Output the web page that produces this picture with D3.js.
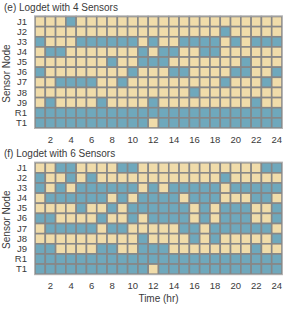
<!DOCTYPE html>
<html>
<head>
<meta charset="utf-8">
<script src="https://cdn.jsdelivr.net/npm/d3@7"></script>
<style>
  body { margin: 0; background: #fff; }
  text { font-family: "Liberation Sans", Arial, sans-serif; fill: #3a3a3a; }
</style>
</head>
<body>
<div id="chart"></div>
<script>
// sensor nodes (rows) and hours (columns)
const nodes = ["J1", "J2", "J3", "J4", "J5", "J6", "J7", "J8", "J9", "R1", "T1"];
const hours = [1, 2, 3, 4, 5, 6, 7, 8, 9, 10, 11, 12, 13, 14, 15, 16, 17, 18, 19, 20, 21, 22, 23, 24];
const hourTicks = [2, 4, 6, 8, 10, 12, 14, 16, 18, 20, 22, 24];

// 1 = node selected at that hour (blue), 0 = not selected
const logdet4 = [
  "000100000000000000000000",
  "000000000000000000100000",
  "100011111101001111010111",
  "011000000010110011000000",
  "000000010011100000001000",
  "100000000100011000011001",
  "001111001000000000100010",
  "000000000000000100000000",
  "010000100001000000000100",
  "111111111111111111111111",
  "111111111110111111111111"
];
const logdet6 = [
  "001100001100000000000011",
  "100101000000000000100000",
  "101011111101011111011111",
  "011111101011110111000110",
  "000010010111111010111001",
  "110000100101111010111001",
  "011111011000001101111110",
  "000000000010000101000001",
  "110000110011100000000100",
  "111111111111111111111111",
  "111111111110111111111111"
];

const W = 284, H = 309;
const left = 35, right = 282;
const yellow = "#f0dcaa", blue = "#6fa8bc", gridCol = "#878787";

const svg = d3.select("#chart").append("svg")
  .attr("width", W).attr("height", H);

const x = d3.scaleBand().domain(hours).range([left, right]);

function panel(title, rows, top, showXTitle) {
  const y = d3.scaleBand().domain(nodes).range([top, top + 111.5]);
  const g = svg.append("g");

  g.append("text")
    .attr("x", 4).attr("y", top - 5.5)
    .style("font-size", "10px")
    .text(title);

  const cells = [];
  rows.forEach(function (r, i) {
    hours.forEach(function (h, j) {
      cells.push({ node: nodes[i], hour: h, on: r[j] === "1" });
    });
  });

  g.selectAll("rect.cell")
    .data(cells)
    .enter()
    .append("rect")
    .attr("class", "cell")
    .attr("x", function (d) { return x(d.hour); })
    .attr("y", function (d) { return y(d.node); })
    .attr("width", x.bandwidth())
    .attr("height", y.bandwidth())
    .attr("fill", function (d) { return d.on ? blue : yellow; })
    .attr("stroke", gridCol)
    .attr("stroke-width", 1.6);

  // outer frame is lighter
  g.append("rect")
    .attr("x", left - 0.5).attr("y", top - 0.5)
    .attr("width", right - left + 1).attr("height", 112.5)
    .attr("fill", "none")
    .attr("stroke", "#b5b5b5")
    .attr("stroke-width", 1);

  // row labels
  g.append("g")
    .attr("transform", "translate(" + (left - 3) + ",0)")
    .call(d3.axisLeft(y).tickSize(0).tickPadding(5))
    .call(function (a) { a.select(".domain").remove(); })
    .selectAll("text")
    .style("font-size", "9.5px")
    .style("font-family", "Liberation Sans, Arial, sans-serif")
    .attr("fill", "#3a3a3a");

  // hour ticks
  g.append("g")
    .attr("transform", "translate(0," + (top + 111.5) + ")")
    .call(d3.axisBottom(x).tickValues(hourTicks).tickSize(0).tickPadding(8))
    .call(function (a) { a.select(".domain").remove(); })
    .selectAll("text")
    .style("font-size", "9.5px")
    .style("font-family", "Liberation Sans, Arial, sans-serif")
    .attr("fill", "#3a3a3a");

  // y axis title
  g.append("text")
    .attr("transform", "translate(10," + (top + 57) + ") rotate(-90)")
    .style("text-anchor", "middle")
    .style("font-size", "10px")
    .text("Sensor Node");

  if (showXTitle) {
    g.append("text")
      .attr("x", (left + right) / 2).attr("y", top + 111.5 + 28)
      .style("text-anchor", "middle")
      .style("font-size", "10px")
      .text("Time (hr)");
  }
}

panel("(e) Logdet with 4 Sensors", logdet4, 16.5, false);
panel("(f) Logdet with 6 Sensors", logdet6, 162.7, true);
</script>
</body>
</html>
